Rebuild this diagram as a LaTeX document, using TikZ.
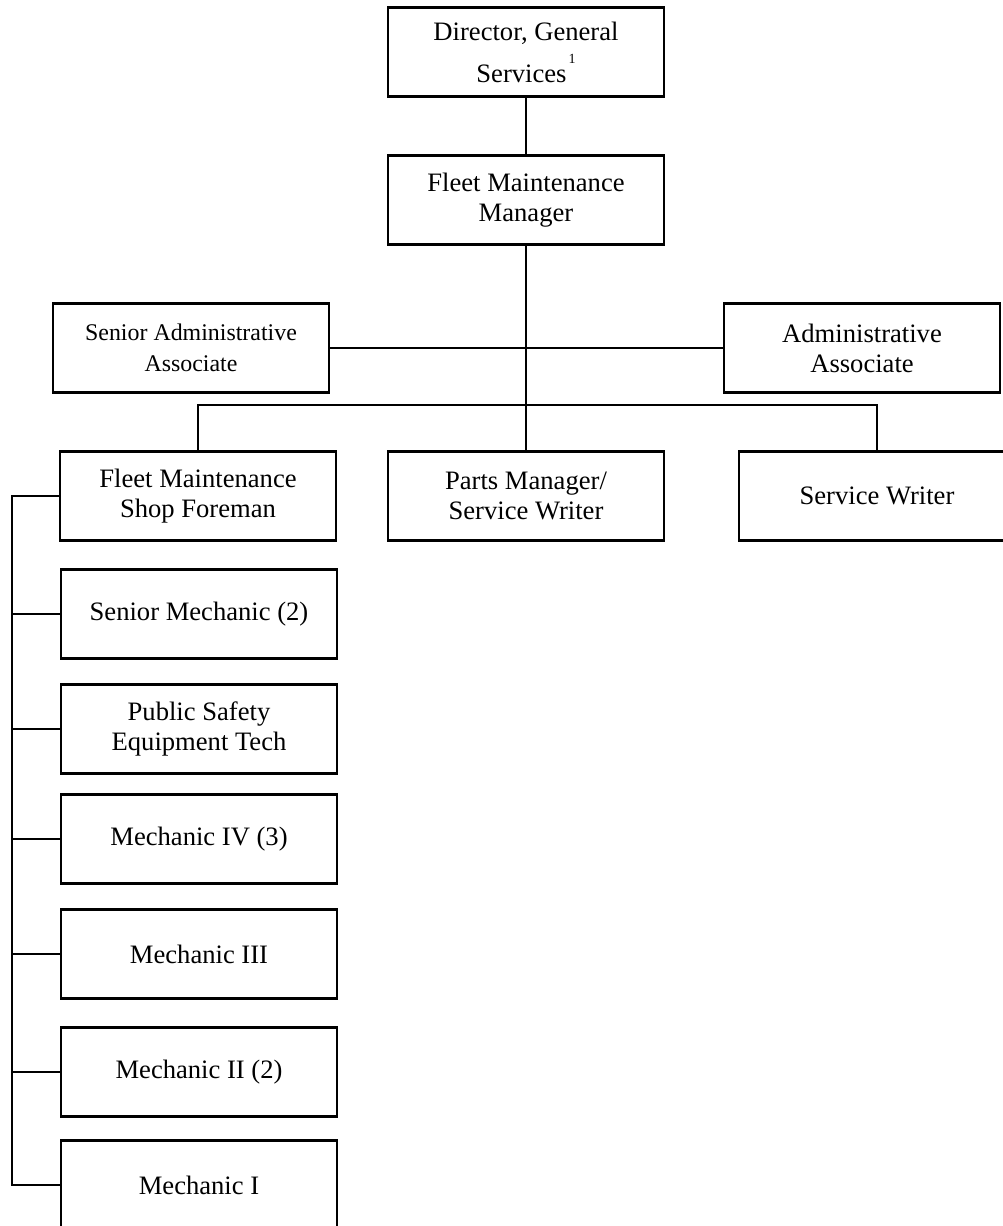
\documentclass[tikz,border=0pt]{standalone}
\usepackage{fontspec}
\setmainfont{Liberation Serif}
\begin{document}
\begin{tikzpicture}[x=1pt,y={(0,-1pt)},
  post/.style={draw, line width=2.3pt, minimum width=276pt, minimum height=89pt,
    inner sep=0pt, align=center, font=\fontsize{26.6}{30}\selectfont},
  caption/.style={font=\fontsize{26.6}{30}\selectfont, anchor=base, inner sep=0pt},
  link/.style={line width=1.7pt},
  trunk/.style={line width=2.7pt}]
\useasboundingbox (0,0) rectangle (1002,1226);
\fill[white] (0,0) rectangle (1002,1226);

% management chain
\node[post] (dir) at (526,52) {};
\node[caption] (dirA) at (526,40) {Director, General};
\node[caption] (dirB) at (526,82)
  {Services\kern2pt\raisebox{19pt}{\fontsize{14}{14}\selectfont 1}};
\node[post] (fmm) at (526,200) {Fleet Maintenance\\Manager};

% administrative staff
\node[post, font=\fontsize{23.9}{31}\selectfont] (saa) at (191,348) {Senior Administrative\\Associate};
\node[post] (aa) at (862,348) {Administrative\\Associate};

% shop level
\node[post] (fore) at (198,496) {Fleet Maintenance\\Shop Foreman};
\node[post] (parts) at (526,496) {Parts Manager/\\Service Writer};
\node[post] (sw) at (877,496) {Service Writer};

% mechanics
\node[post] (m1) at (199,614) {Senior Mechanic (2)};
\node[post] (m2) at (199,729) {Public Safety\\Equipment Tech};
\node[post] (m3) at (199,839) {Mechanic IV (3)};
\node[post] (m4) at (199,954) {Mechanic III};
\node[post] (m5) at (199,1072) {Mechanic II (2)};
\node[post] (m6) at (199,1185) {Mechanic I};

\coordinate (bus) at (12,0);
\coordinate (split) at (526,405);

% connectors
\draw[trunk] (dir.south) -- (fmm.north);
\draw[link] (fmm.south) -- (parts.north);
\draw[link] (saa.east) -- (aa.west);
\draw[link] (fore.north) |- (split) -| (sw.north);
\draw[trunk] (fore.west) -| (bus |- m6.west) -- (m6.west);
\foreach \m in {m1,m2,m3,m4,m5}
  \draw[link] (\m.west) -- (bus |- \m.west);
\end{tikzpicture}
\end{document}
